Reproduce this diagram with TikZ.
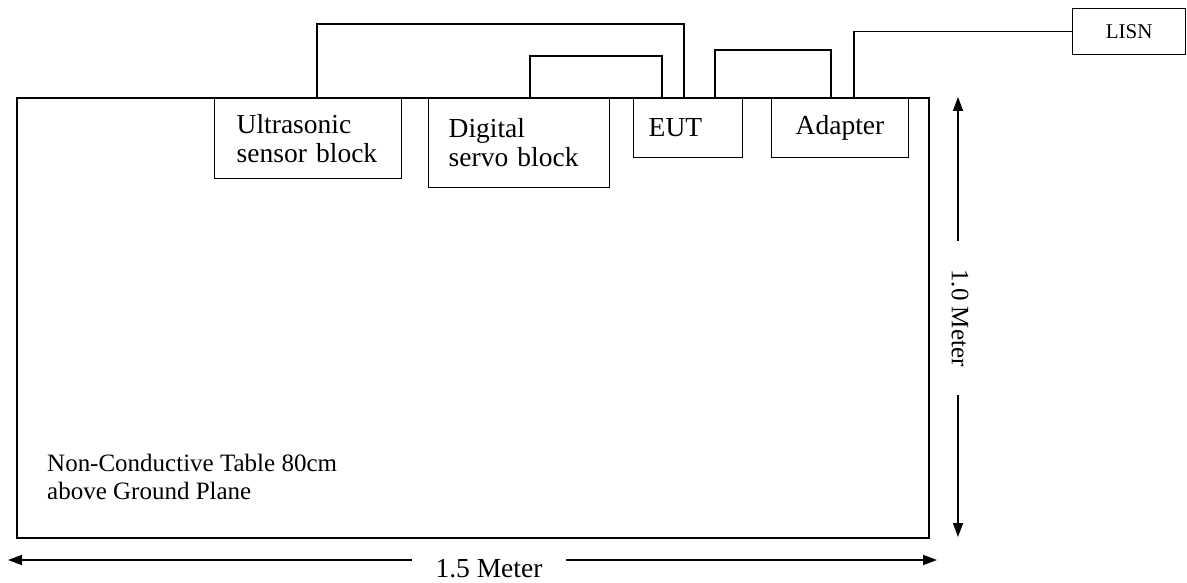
\documentclass[tikz,border=0pt]{standalone}
\usepackage{fontspec}
\setmainfont{Liberation Serif}
\usetikzlibrary{arrows.meta}
\begin{document}
\begin{tikzpicture}[x=1pt,y=1pt,
  every node/.style={font=\fontsize{27.5}{29}\selectfont},
  blk/.style={draw, line width=1.4pt, anchor=north west, align=left, inner ysep=0pt},
  wire/.style={line width=1.4pt},
  dim/.style={line width=1.6pt, {Triangle[length=14pt,width=10pt]}-{Triangle[length=14pt,width=10pt]}}]
\useasboundingbox (0,0) rectangle (1187,582);
% table
\node[draw, line width=2pt, minimum width=912pt, minimum height=440pt, anchor=north west, inner sep=0pt] (table) at (16,485) {};
\node[anchor=north west, align=left, inner sep=0pt, font=\fontsize{25}{28}\selectfont] (tabtext) at (47,128) {Non-Conductive Table 80cm\\above Ground Plane};
% blocks
\node[blk, text width=143pt, inner xsep=22pt, minimum height=81pt] (ultra) at (214,485) {Ultrasonic\\sensor block};
\node[blk, text width=141pt, inner xsep=20pt, minimum height=90pt] (servo) at (428,485) {Digital\\servo block};
\node[blk, text width=79pt, inner xsep=15pt, minimum height=60pt] (eut) at (633,485) {EUT};
\node[blk, text width=89pt, inner xsep=24pt, minimum height=60pt] (adapter) at (771,485) {Adapter};
\node[draw, line width=1.4pt, anchor=north west, minimum width=113pt, minimum height=46pt, inner sep=0pt, font=\fontsize{21}{24}\selectfont] (lisn) at (1072,574) {LISN};
% wires
\draw[wire] (317,0 |- ultra.north) |- (684,558) -- (684,0 |- eut.north);
\draw[wire] (530,0 |- servo.north) |- (662,526) -- (662,0 |- eut.north);
\draw[wire] (715,0 |- eut.north) |- (831,532) -- (831,0 |- adapter.north);
\draw[wire] (854,0 |- adapter.north) |- (lisn.west);
% dimensions
\coordinate (vtop) at (958,485);
\coordinate (vbot) at (958,45);
\draw[dim] (vtop) -- (vbot);
\node[rotate=-90, font=\fontsize{25}{28}\selectfont, fill=white, inner xsep=28pt, inner ysep=0pt] (vlabel) at (960,264) {1.0 Meter};
\coordinate (hleft) at (8,22);
\coordinate (hright) at (937,22);
\draw[dim] (hleft) -- (hright);
\node[anchor=base, fill=white, inner xsep=24pt, inner ysep=2pt, font=\fontsize{27.5}{29}\selectfont] (hlabel) at (489,5) {1.5 Meter};
\end{tikzpicture}
\end{document}
